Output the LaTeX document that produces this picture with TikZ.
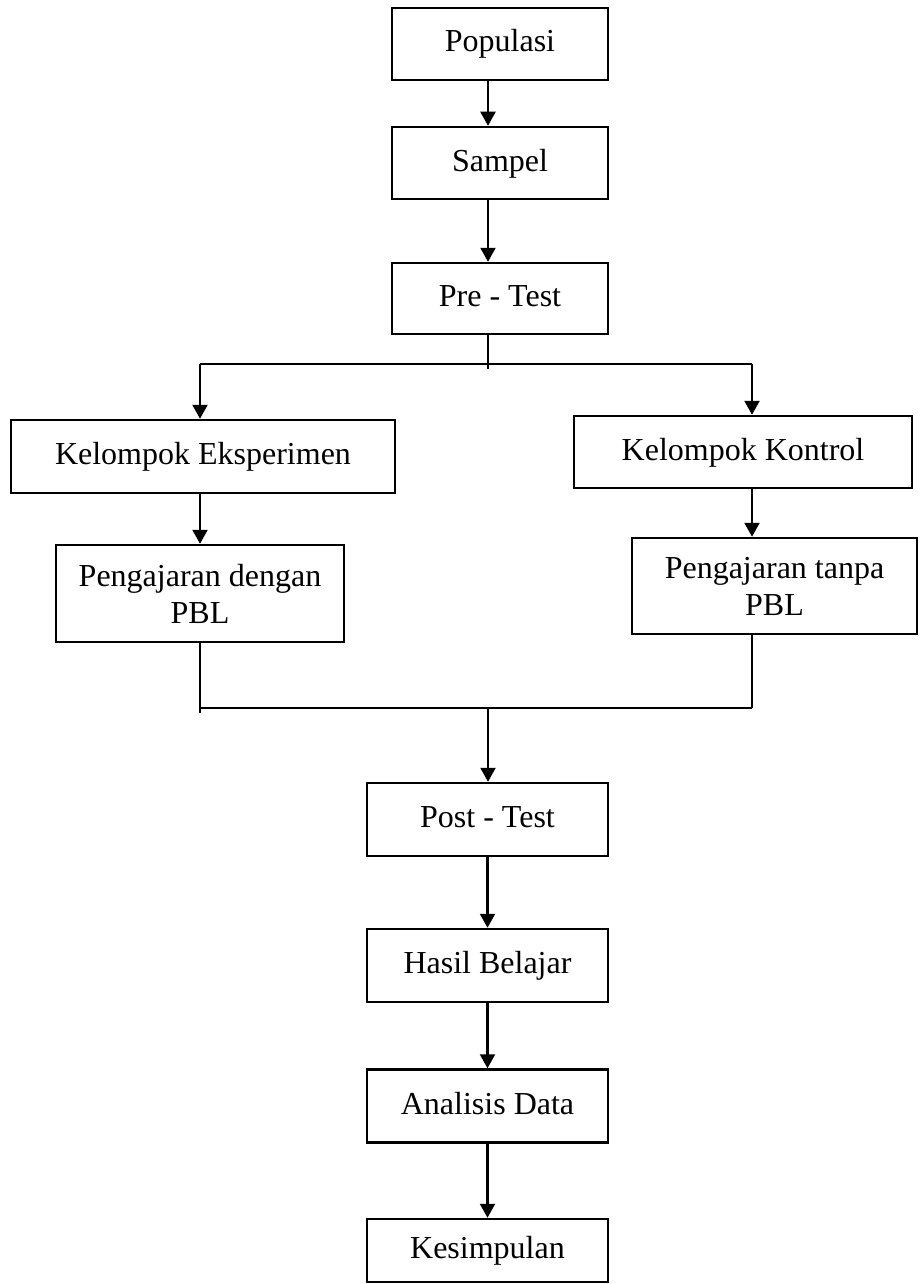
\documentclass[tikz,border=0pt]{standalone}
\usepackage{fontspec}
\setmainfont{Liberation Serif}
\usetikzlibrary{arrows.meta,calc}

\begin{document}
\begin{tikzpicture}[x=0.5pt,y=-0.5pt,
  >={Triangle[length=7pt,width=7.5pt]},
  flowbox/.style={draw,line width=1.25pt,inner sep=0pt,align=center,
    font=\fontsize{16pt}{18.5pt}\selectfont},
  onebox/.style={flowbox,text height=11pt,text depth=3pt},
  midbox/.style={onebox,minimum width=120.5pt,minimum height=36.5pt},
  link/.style={line width=1.1pt}]
  \useasboundingbox (0,0) rectangle (923,1284);

  % upper column
  \node[onebox,minimum width=108pt,minimum height=36pt] (pop) at (500,44) {Populasi};
  \node[onebox,minimum width=108pt,minimum height=36pt] (sampel) at (500,163) {Sampel};
  \node[onebox,minimum width=108pt,minimum height=35.5pt] (pre) at (500,298.5) {Pre - Test};

  % the two groups
  \node[onebox,minimum width=192pt,minimum height=36.5pt] (eksp) at (203,456.5) {Kelompok Eksperimen};
  \node[onebox,minimum width=169pt,minimum height=36pt] (kontrol) at (743,452) {Kelompok Kontrol};
  \node[flowbox,minimum width=144pt,minimum height=48.5pt] (pbl1) at (200,593.5) {Pengajaran dengan\\PBL};
  \node[flowbox,minimum width=142.5pt,minimum height=48pt] (pbl2) at (774.5,586) {Pengajaran tanpa\\PBL};

  % lower column
  \node[midbox] (post) at (487.5,819.5) {Post - Test};
  \node[midbox] (hasil) at (487.5,965.5) {Hasil Belajar};
  \node[midbox] (analisis) at (487.5,1106) {Analisis Data};
  \node[onebox,minimum width=120.5pt,minimum height=31.5pt] (kesimpulan) at (487.5,1250.5) {Kesimpulan};

  \coordinate (axis) at (488,0);
  \coordinate (tick) at (488,369);
  \coordinate (splitL) at (200,364);
  \coordinate (splitR) at (752,364);
  \coordinate (joinL) at (200,708);
  \coordinate (joinR) at (752,708);
  \coordinate (joinLend) at (200,713);

  \draw[link,->] (pop.south -| axis) -- (sampel.north -| axis);
  \draw[link,->] (sampel.south -| axis) -- (pre.north -| axis);
  \draw[link] (pre.south -| axis) -- (tick);
  \draw[link] (splitL) -- (splitR);
  \draw[link,->] (splitL) -- (eksp.north -| splitL);
  \draw[link,->] (splitR) -- (kontrol.north -| splitR);
  \draw[link,->] (eksp.south -| splitL) -- (pbl1.north -| splitL);
  \draw[link,->] (kontrol.south -| splitR) -- (pbl2.north -| splitR);
  \draw[link] (pbl1.south -| joinL) -- (joinLend);
  \draw[link] (pbl2.south -| joinR) -- (joinR);
  \draw[link] (joinL) -- (joinR);
  \draw[link,->] (joinL -| axis) -- (post.north -| axis);
  \draw[link,->] (post) -- (hasil);
  \draw[link,->] (hasil) -- (analisis);
  \draw[link,->] (analisis) -- (kesimpulan);
\end{tikzpicture}
\end{document}
